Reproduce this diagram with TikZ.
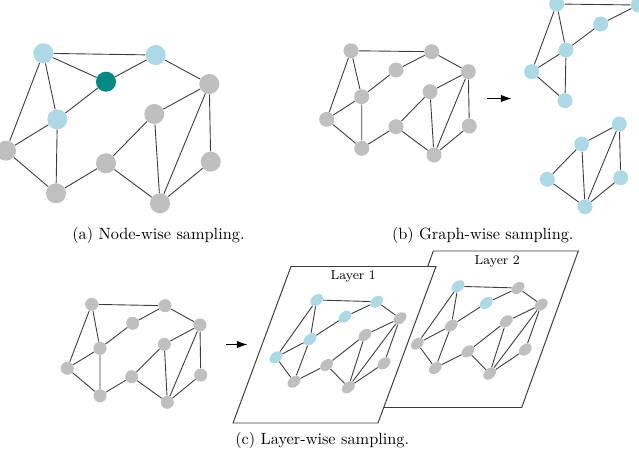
\documentclass[tikz,border=0pt]{standalone}
\usetikzlibrary{arrows.meta,shapes.geometric}
\definecolor{nblue}{RGB}{173,216,230}
\definecolor{ngray}{RGB}{191,191,191}
\definecolor{nteal}{RGB}{0,137,130}
\definecolor{edgec}{RGB}{60,60,60}
\newcommand\gedges[1]{\draw[edge] (#1A)--(#1B) (#1A)--(#1G) (#1A)--(#1E) (#1C)--(#1B) (#1C)--(#1E) (#1E)--(#1G) (#1E)--(#1J) (#1G)--(#1J) (#1J)--(#1H) (#1H)--(#1F) (#1H)--(#1K) (#1F)--(#1K) (#1F)--(#1D) (#1B)--(#1D) (#1D)--(#1K) (#1D)--(#1I) (#1I)--(#1K);}
\begin{document}
\begin{tikzpicture}[x=0.6135pt,y=-0.6135pt,
  edge/.style={draw=edgec, line width=0.55pt},
  an/.style={circle, inner sep=0pt, minimum size=12.3pt, draw=none},
  bn/.style={circle, inner sep=0pt, minimum size=9.2pt, draw=none},
  cn/.style={circle, inner sep=0pt, minimum size=8pt, draw=none},
  ln/.style={ellipse, inner sep=0pt, minimum width=8.8pt, minimum height=6.3pt, rotate=40, draw=none},
  gr/.style={fill=ngray}, bl/.style={fill=nblue}, tl/.style={fill=nteal},
  frame/.style={draw=edgec, line width=0.6pt, fill=white},
  arr/.style={draw=black, line width=0.6pt, -{Latex[length=6.5pt,width=4.5pt]}},
  captext/.style={anchor=west, inner sep=0pt, font=\normalsize},
  lab/.style={inner sep=0pt, font=\footnotesize}]
\useasboundingbox (0,0) rectangle (639,462);
% ---------- (a) ----------
\node[an,bl] (aA) at (43.3,53.3) {};
\node[an,bl] (aB) at (155.7,55) {};
\node[an,tl] (aC) at (106,81.7) {};
\node[an,gr] (aD) at (209.3,84) {};
\node[an,bl] (aE) at (57.3,119.3) {};
\node[an,gr] (aF) at (154.3,114) {};
\node[an,gr] (aG) at (6,150.7) {};
\node[an,gr] (aH) at (106,163.3) {};
\node[an,gr] (aI) at (210.7,161.7) {};
\node[an,gr] (aJ) at (56,193.3) {};
\node[an,gr] (aK) at (160,203.3) {};
\gedges{a}
\draw[edge] (aA) -- (aC);
\node[captext] (capa) at (72,235.5) {(a) Node-wise sampling.};
% ---------- (b) left ----------
\node[bn,gr] (bA) at (351,50.7) {};
\node[bn,gr] (bB) at (431.7,51.7) {};
\node[bn,gr] (bC) at (396,70) {};
\node[bn,gr] (bD) at (468.3,71.7) {};
\node[bn,gr] (bE) at (361.7,96.7) {};
\node[bn,gr] (bF) at (430,91.7) {};
\node[bn,gr] (bG) at (326.7,119.3) {};
\node[bn,gr] (bH) at (396,126.7) {};
\node[bn,gr] (bI) at (469.3,126) {};
\node[bn,gr] (bJ) at (361.7,148.3) {};
\node[bn,gr] (bK) at (434,155) {};
\gedges{b}
\coordinate (barr0) at (487,98.5);
\coordinate (barr1) at (511.5,98.5);
\draw[arr] (barr0) -- (barr1);
% ---------- (b) right ----------
\node[bn,bl] (pA) at (556.7,4) {};
\node[bn,bl] (pB) at (638.3,5) {};
\node[bn,bl] (pC) at (600.7,24) {};
\node[bn,bl] (pE) at (566,50) {};
\node[bn,bl] (pG) at (531.7,71.7) {};
\node[bn,bl] (pJ) at (565,100.7) {};
\draw[edge] (pA)--(pB) (pA)--(pG) (pA)--(pE) (pC)--(pB) (pC)--(pE) (pE)--(pG) (pE)--(pJ) (pG)--(pJ);
\node[bn,bl] (qD) at (619.3,124) {};
\node[bn,bl] (qF) at (581.7,144) {};
\node[bn,bl] (qH) at (547.3,179.3) {};
\node[bn,bl] (qI) at (620.7,177.7) {};
\node[bn,bl] (qK) at (585,206.7) {};
\draw[edge] (qD)--(qF) (qF)--(qH) (qF)--(qK) (qH)--(qK) (qD)--(qK) (qD)--(qI) (qI)--(qK);
\node[captext] (capb) at (391.7,235.5) {(b) Graph-wise sampling.};
% ---------- (c) left ----------
\node[cn,gr] (cA) at (91.7,304.3) {};
\node[cn,gr] (cB) at (165,305.7) {};
\node[cn,gr] (cC) at (132.7,323.3) {};
\node[cn,gr] (cD) at (200,325) {};
\node[cn,gr] (cE) at (100,348.3) {};
\node[cn,gr] (cF) at (164.3,344.3) {};
\node[cn,gr] (cG) at (67.3,368.3) {};
\node[cn,gr] (cH) at (131.7,376.7) {};
\node[cn,gr] (cI) at (200.7,375) {};
\node[cn,gr] (cJ) at (100,395.7) {};
\node[cn,gr] (cK) at (167.3,402.3) {};
\gedges{c}
\coordinate (carr0) at (226,344.5);
\coordinate (carr1) at (247.5,344.5);
\draw[arr] (carr0) -- (carr1);
% ---------- Layer 2 (behind) ----------
\draw[frame] (433.3,251) -- (578.3,251) -- (521.7,407.5) -- (376.7,407.5) -- cycle;
\node[lab] (l2) at (497.3,261.7) {Layer 2};
\begin{scope}[shift={(141.3,-13.7)}]
\node[ln,bl] (mA) at (316.7,300) {};
\node[ln,gr] (mB) at (376.7,301.7) {};
\node[ln,bl] (mC) at (345,316.7) {};
\node[ln,gr] (mD) at (400,318.3) {};
\node[ln,gr] (mE) at (310,339.3) {};
\node[ln,gr] (mF) at (365,335) {};
\node[ln,gr] (mG) at (276,357.3) {};
\node[ln,gr] (mH) at (326.7,365) {};
\node[ln,gr] (mI) at (384,363.3) {};
\node[ln,gr] (mJ) at (294,381.7) {};
\node[ln,gr] (mK) at (348.3,387.3) {};
\gedges{m}
\end{scope}
% ---------- Layer 1 (front) ----------
\draw[frame] (291,266.5) -- (436,266.5) -- (378,423) -- (233,423) -- cycle;
\node[lab] (l1) at (353.3,276) {Layer 1};
\node[ln,bl] (kA) at (316.7,300) {};
\node[ln,bl] (kB) at (376.7,301.7) {};
\node[ln,bl] (kC) at (345,316.7) {};
\node[ln,gr] (kD) at (400,318.3) {};
\node[ln,bl] (kE) at (310,339.3) {};
\node[ln,gr] (kF) at (365,335) {};
\node[ln,bl] (kG) at (276,357.3) {};
\node[ln,gr] (kH) at (326.7,365) {};
\node[ln,gr] (kI) at (384,363.3) {};
\node[ln,gr] (kJ) at (294,381.7) {};
\node[ln,gr] (kK) at (348.3,387.3) {};
\gedges{k}
\node[captext] (capc) at (235,440) {(c) Layer-wise sampling.};
\end{tikzpicture}
\end{document}
